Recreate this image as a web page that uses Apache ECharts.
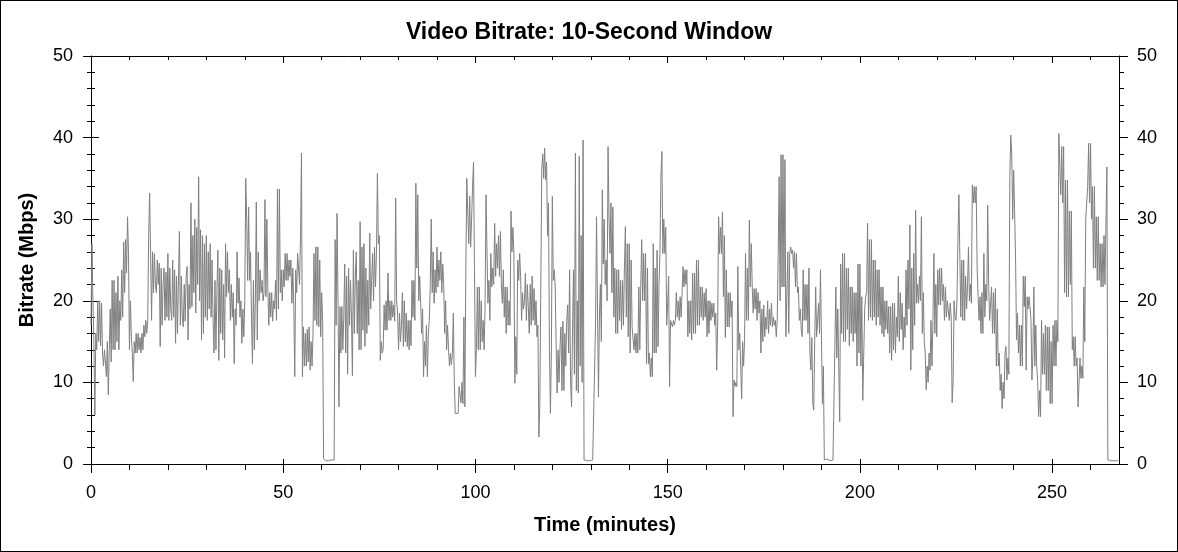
<!DOCTYPE html>
<html>
<head>
<meta charset="utf-8">
<script src="https://cdn.jsdelivr.net/npm/echarts@6/dist/echarts.min.js"></script>
<style>
html,body{margin:0;padding:0;background:#fff;}
#wrap{position:relative;width:1178px;height:552px;}
#chart{position:absolute;left:0;top:0;width:1178px;height:552px;}
#frame{position:absolute;left:0;top:0;width:1178px;height:552px;box-sizing:border-box;border:1px solid #000;pointer-events:none;}
</style>
</head>
<body>
<div id="wrap"><div id="chart"></div><div id="frame"></div></div>
<script>
// Chart texts
const chartTitle = 'Video Bitrate: 10-Second Window';
const xAxisName = 'Time (minutes)';
const yAxisName = 'Bitrate (Mbps)';

// Axis ticks
const xMajorTicks = [0, 50, 100, 150, 200, 250];
const xMinorTicks = [10, 20, 30, 40, 60, 70, 80, 90, 110, 120, 130, 140, 160, 170, 180, 190, 210, 220, 230, 240, 260];
const xMax = 267.4;
const yTicks = [0, 10, 20, 30, 40, 50];

// Sample spacing of the bitrate readings (minutes)
const sampleStep = 0.25;

// Bitrate (Mbps), one reading every 0.25 minute starting at 0 (two minutes per row)
const bitrate = [
  17,27,20,15, 6,16,14,20,
  15,20,14.5,19.7, 13.6,12,14,12.5,
  10.7,15,8.5,14, 19,12.5,22.5,14,
  22.5,14,21,15, 23,14,20,17.6,
  23.8,18,27.2,21, 27.5,23.4,30.3,26,
  14,20,15.6,13.6, 10.1,15,13.6,16,
  13.6,16,14,15.5, 13.6,16,14,17,
  15.6,17.6,16,17.5, 28,33.2,25.8,17.6,
  26,21,25.8,22, 21,25,22,24.6,
  14.4,24,17,22, 24,17.6,23.5,18,
  25.8,17.6,24,19, 17.6,25,18,23.8,
  14.8,23,16,22.5, 28.5,17,23,18,
  16.8,22,17.5,23, 24.2,15.2,22,19,
  32,19.3,28,21, 30,18.5,29,22,
  35.2,20,28.7,15.2, 28,16,27,18,
  28,17.6,26,19, 27,18,25,17.6,
  13.6,22.5,14,21, 26.2,12.7,24,16,
  23.8,15.2,22,13, 27,20.5,26,21,
  23.8,17.6,22,18, 21,12.3,19,17,
  26,19.7,22.8,18, 20,14.8,19,15.6,
  20,35,30,22.5, 31.5,22.5,26,18,
  12.3,22.5,14,20, 32.1,15.2,26,20,
  23.8,21,22.5,20, 21,32.4,20.5,30,
  21.7,17,21,18, 21,17.5,20,19,
  22.5,17.6,33.7,19, 33.7,21,23.8,20,
  23.8,21.7,25.8,22.5, 25.8,22.5,25,23,
  25,19.7,24,19.3, 10.7,23.8,21,25.8,
  25.8,22,28,38.1, 10.7,16.8,12,16,
  12,16.5,12.5,16.8, 11.5,15,12,16,
  25.8,17.6,26.6,17, 26.6,16.8,25,15.6,
  21,17.6,0.7,0.5, 0.4,0.6,0.5,0.4,
  0.6,0.4,0.5,0.7, 0.5,0.5,27.5,17,
  30.7,20,7,19.3, 13.6,19.3,14,18,
  24.5,13.6,23,11, 24,17,22.5,18,
  10.8,26.2,16,23, 26,16,22.5,14,
  29.7,14,26.6,16.4, 27,14.4,24,16,
  22.5,17,28.3,19, 22.5,25.8,20,26.6,
  21.7,25.8,35.6,27, 28,12.7,15,13.6,
  14,19.5,16.4,20, 16.4,23.4,17.6,20,
  17.6,20,18,19.5, 17.5,32.6,20,18.5,
  14,18.5,15,17, 21,14.4,20,15,
  18.5,14.4,17.6,14, 17.6,14.5,22.5,18,
  22.5,17.6,34.4,24, 33,20,23,19.7,
  16,19,10.7,15, 12,17,10.7,16,
  17.6,22,30,21, 26,19.7,23.8,21,
  26.6,21.7,25,22.5, 26,21,24.5,22,
  16,20,14,17, 14,12,13.6,12.2,
  13.5,18.5,10,6.2, 6.2,6.3,6.2,9.5,
  9.5,7.5,10,7.4, 18,7,24,35,
  35,27,32.8,26.6, 30,34,37,23.8,
  10.7,14,21.7,14, 21.7,14,20,15,
  17.6,14,19,33, 33.2,19.7,22.5,17.6,
  25.8,21.7,24,22, 29.5,23,27,24,
  28,23,28.5,22, 19.7,23.8,18,21.7,
  16,21.7,17,20, 17,31,26,29,
  25.8,9.9,15.6,11, 25,22.5,25.8,23,
  17.6,21,19,20, 23.4,17.6,22,19.3,
  16,22,17,23, 17.6,21.5,17,20,
  15.6,17,3.3,7.4, 7.4,36,38,35,
  38.7,34.8,37,28, 32,14,6.2,13.6,
  32.8,22.5,23.8,21.7, 14.4,8.7,14,10,
  14.4,16.8,9,17.5, 9,16,12,17.6,
  19.5,13.6,23.8,10, 7,16,23.8,11,
  38.1,9,20,8.7, 37.7,12,28,10,
  39.7,0.5,0.4,0.6, 0.4,0.6,0.5,0.4,
  0.6,0.4,0.5,0.5, 0.4,17.6,30.3,19,
  8.2,18,22,15, 33.6,24.5,30,22,
  25,20,38.9,30, 25.8,32,21,31.5,
  18,24,16,23.8, 16,23.8,17.6,22.5,
  16.5,22.5,17,24, 29.1,18,27,15.6,
  27,13.6,25,16.8, 16.8,14,16,13.6,
  16,13.6,21.7,14, 21.7,27.5,20,25.8,
  20,25.8,12.3,24, 12.3,13.6,10.7,13,
  10.7,27,13.6,24, 13.6,26.2,14.4,22,
  26,35.2,38.3,25.8, 30,25.8,29,17,
  19.7,23,9.5,17.6, 17.6,16.8,17.6,17,
  17.6,21,18,20, 17.6,20.5,18,21,
  24.2,21.7,23.8,22, 23.8,15.6,20,16,
  20,15.2,23.4,16, 23.4,16,25,17,
  25,17,21.7,18, 21.7,17.6,21,18,
  21.5,15.6,20,16, 20,17.6,19.7,18,
  19.7,17,18.5,11.5, 17,30.3,25.8,29,
  25.8,30.9,20.5,28, 15.5,23.8,16.8,21,
  16.8,21,18,20, 5.8,10.3,9.5,10,
  9.5,24.2,14,16, 16,8,15,12,
  15,25.8,17.6,24, 17.6,29.9,21.7,27,
  21.7,18.5,21.5,19, 21.5,17.6,21,18.5,
  20,13.6,19,15, 19.5,15.6,18,16.5,
  20,16,19,17, 19.7,16.8,18,17,
  17.6,15.6,17.6,25.8, 35.2,20,37.9,21.7,
  37.9,21.7,37.3,15.6, 15.6,26,16,25.8,
  26.6,25.8,26.2,24, 26,21.7,25.8,21,
  21.7,17.6,19,16.5, 15.6,23.8,17.6,22,
  17.6,22,16,24, 13.6,11.5,15.5,7.5,
  6.6,15,21.7,15.6, 15.6,19.7,16,23.8,
  23.8,7.4,12,0.5, 0.5,0.4,0.6,0.4,
  0.6,0.4,0.5,0.6, 0.5,0.6,0.4,21.7,
  13,19,12,5.2, 24.5,16,25.8,15,
  25.8,15,24,16.5, 24,14.5,21.7,16,
  21.7,15,21,16, 21,12,24.5,13.6,
  24.5,12,20.5,7.8, 7.8,19,20.5,21,
  29.5,17.6,27.5,18, 27.5,17.6,25,18,
  25,17,23.8,18, 23.8,17,21.7,16,
  21.7,15.6,20,16.5, 20,16,19.3,13.6,
  19.3,12.7,19.7,14, 19.7,13.6,18,15.6,
  23,15,21,16.5, 19.7,14,18,15.5,
  23.8,17,25,19, 29.3,11.5,24,14,
  25.8,17,31.1,19.7, 22,19.7,23,20,
  30.3,16,21,15, 13.6,9.1,12,10,
  13.6,11.5,17.6,12, 17.6,25.8,16,22,
  15.6,23.8,19.5,24, 19.5,24,20,22,
  17.6,21.7,18,20, 20,17.6,19.7,18,
  7.5,10.3,20,18, 17.6,20,27.5,33,
  33,18,25,17.6, 25,17.6,23,19,
  21.7,26.6,20,22, 19.7,34.2,32,34,
  32,34,24,20.5, 17.6,20.5,16,21,
  16,25.8,18,22, 20,31.7,22,17.6,
  17.6,21.7,16,21, 16,21.5,12,19,
  12,13.6,9,11, 6.8,10,8,13.6,
  14.4,10.3,13,11, 35.2,40.3,38,30,
  36,30.8,25,15.2, 18.5,13.6,17,12,
  17,12,23,19.3, 23,11.5,20.5,19,
  20.5,19.3,17.6,10.3, 13.5,21.7,12,17,
  12,10,5.8,9, 5.8,17.6,11,16,
  11,17,9,16.8, 9,16.8,7.4,15,
  7.4,17,12,17.6, 12,17.6,15,40.5,
  40.5,33,38.9,32, 38.9,21,34.8,20.5,
  34.8,20.5,31,22, 31,14,15.6,12,
  15.6,12,13,7, 7,13,10.5,12,
  10.5,21.7,15,30, 30,34,39.3,32,
  39.3,30,34,24, 34,24,30.3,22.5,
  30.3,22.5,27,21.7, 27,21.7,28,22,
  22,36.4,0.5,0.4, 0.5,0.4,0.6,0.5,
  0.4,0.6,0.5,0.4, 0.5,0.4
];

const seriesData = bitrate.map((v, i) => [i * sampleStep, v]);

const FONT = 'Arial, "Liberation Sans", sans-serif';
const black = '#000';

function xAx(extra) {
  return Object.assign({
    type: 'value', min: 0, max: xMax,
    splitLine: { show: false },
    axisLine: { show: false, lineStyle: { color: black, width: 1 } },
    axisLabel: { show: false },
    axisTick: { show: false },
    minorTick: { show: false }
  }, extra);
}
function yAx(extra) {
  return Object.assign({
    type: 'value', min: 0, max: 50, interval: 10,
    splitLine: { show: false },
    axisLine: { show: false, lineStyle: { color: black, width: 1 } },
    axisLabel: { show: false },
    axisTick: { show: false },
    minorTick: { show: false }
  }, extra);
}

const chart = echarts.init(document.getElementById('chart'), null, { renderer: 'canvas' });
chart.setOption({
  animation: false,
  backgroundColor: '#fff',
  title: {
    text: chartTitle, left: 'center', top: 16,
    textStyle: { fontFamily: FONT, fontSize: 23, fontWeight: 'bold', color: black }
  },
  grid: { left: 91, right: 59, top: 56, bottom: 88, containLabel: false },
  xAxis: [
    xAx({
      position: 'bottom',
      name: xAxisName, nameLocation: 'middle', nameGap: 51,
      nameTextStyle: { fontFamily: FONT, fontSize: 20, fontWeight: 'bold', color: black },
      axisLine: { show: true, onZero: false, lineStyle: { color: black, width: 1 } },
      axisLabel: { show: true, customValues: xMajorTicks, margin: 20, fontFamily: FONT, fontSize: 18, color: black },
      axisTick: { show: true, customValues: xMajorTicks, inside: false, length: 9, lineStyle: { color: black, width: 1 } }
    }),
    xAx({
      position: 'bottom',
      axisLine: { show: false, onZero: false },
      axisTick: { show: true, customValues: xMajorTicks, inside: true, length: 5, lineStyle: { color: black, width: 1 } }
    }),
    xAx({
      position: 'bottom',
      axisLine: { show: false, onZero: false },
      axisTick: { show: true, customValues: xMinorTicks, inside: false, length: 6, lineStyle: { color: black, width: 1 } }
    }),
    xAx({
      position: 'top',
      axisLine: { show: true, onZero: false, lineStyle: { color: black, width: 1 } },
      axisTick: { show: true, customValues: xMajorTicks, inside: true, length: 7, lineStyle: { color: black, width: 1 } }
    }),
    xAx({
      position: 'top',
      axisLine: { show: false, onZero: false },
      axisTick: { show: true, customValues: xMinorTicks, inside: true, length: 4, lineStyle: { color: black, width: 1 } }
    })
  ],
  yAxis: [
    yAx({
      position: 'left',
      name: yAxisName, nameLocation: 'middle', nameGap: 54, nameRotate: 90,
      nameTextStyle: { fontFamily: FONT, fontSize: 20, fontWeight: 'bold', color: black },
      axisLine: { show: true, onZero: false, lineStyle: { color: black, width: 1 } },
      axisLabel: { show: true, customValues: yTicks, margin: 18, fontFamily: FONT, fontSize: 18, color: black },
      axisTick: { show: true, inside: false, length: 8, lineStyle: { color: black, width: 1 } },
      minorTick: { show: true, splitNumber: 5, length: 4, lineStyle: { color: black, width: 1 } }
    }),
    yAx({
      position: 'left',
      axisLine: { show: false, onZero: false },
      axisTick: { show: true, inside: true, length: 8, lineStyle: { color: black, width: 1 } },
      minorTick: { show: true, splitNumber: 5, length: 4, lineStyle: { color: black, width: 1 } }
    }),
    yAx({
      position: 'right',
      axisLine: { show: true, onZero: false, lineStyle: { color: black, width: 1 } },
      axisLabel: { show: true, customValues: yTicks, margin: 18, fontFamily: FONT, fontSize: 18, color: black },
      axisTick: { show: true, inside: false, length: 9, lineStyle: { color: black, width: 1 } },
      minorTick: { show: true, splitNumber: 5, length: 5, lineStyle: { color: black, width: 1 } }
    })
  ],
  series: [{
    type: 'line',
    xAxisIndex: 0, yAxisIndex: 0,
    data: seriesData,
    showSymbol: false,
    symbol: 'none',
    sampling: null,
    lineStyle: { color: '#808080', width: 1 },
    itemStyle: { color: '#808080' },
    emphasis: { disabled: true },
    silent: true
  }]
});
</script>
</body>
</html>
